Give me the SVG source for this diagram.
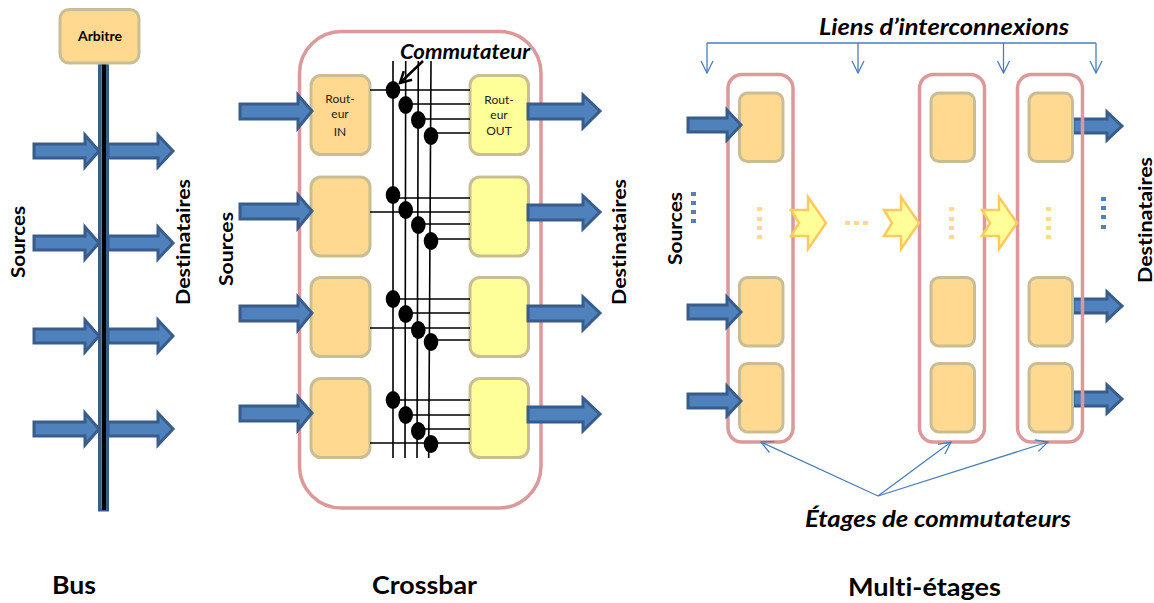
<svg xmlns="http://www.w3.org/2000/svg" width="1154" height="603" viewBox="0 0 1154 603">
<style>
text{font-family:"Lato","Open Sans","Liberation Sans",sans-serif;fill:#000;font-variant-ligatures:none}
.h{font-weight:700;font-size:24px}
.s{font-weight:700;font-size:19px}
.i{font-weight:700;font-style:italic;font-size:23px}
.r{font-size:12px;text-anchor:middle;fill:#222}
.o{fill:#FFD98F;stroke:#C9BD95;stroke-width:3}
.y{fill:#FFFF99;stroke:#C9BD95;stroke-width:3}
.p{fill:none;stroke:#DD9999;stroke-width:3.5}
.a{fill:#4F81BD;stroke:#385D8A;stroke-width:3}
.n{fill:#FFFF99;stroke:#FFC95F;stroke-width:2.5}
.k{stroke:#000;stroke-width:1.6;fill:none}
.b{stroke:#4A7EBB;stroke-width:1.3;fill:none}
.dot{fill:#000}
.od{fill:#FFD98F}
.bd{fill:#4F81BD}
</style>
<defs>
<marker id="open" viewBox="0 0 14 14" refX="13" refY="7" markerWidth="14" markerHeight="14" markerUnits="userSpaceOnUse" orient="auto"><path d="M1 1 L13 7 L1 13" fill="none" stroke="#4A7EBB" stroke-width="1.3"/></marker>
<marker id="blk" viewBox="0 0 14 14" refX="12" refY="7" markerWidth="14" markerHeight="14" markerUnits="userSpaceOnUse" orient="auto"><path d="M1 1 L12 7 L1 13" fill="none" stroke="#000" stroke-width="2.5"/></marker>
<polygon id="n1" class="n" points="0,-13 17,-13 17,-26 35,0 17,26 17,13 0,13 8,0"/>
</defs>

<g id="bus">
<g id="bus-bar"><rect x="99.500" y="64" width="8" height="446" class="a"/><rect x="102" y="64" width="4" height="446" fill="#000"/></g>
<g id="arbitre"><rect x="60" y="9.500" width="79" height="53.500" rx="9" class="o"/><text x="100" y="41" text-anchor="middle" font-size="14" font-weight="700">Arbitre</text></g>
<g id="bus-arrows">
<polygon class="a" points="34,144 85,144 85,135 99,151 85,167 85,158 34,158"/>
<polygon class="a" points="34,236 85,236 85,227 99,243 85,259 85,250 34,250"/>
<polygon class="a" points="34,329 85,329 85,320 99,336 85,352 85,343 34,343"/>
<polygon class="a" points="34,422 85,422 85,413 99,429 85,445 85,436 34,436"/>
<polygon class="a" points="108,144 158,144 158,135 173,151 158,167 158,158 108,158"/>
<polygon class="a" points="108,236 158,236 158,227 173,243 158,259 158,250 108,250"/>
<polygon class="a" points="108,329 158,329 158,320 173,336 158,352 158,343 108,343"/>
<polygon class="a" points="108,422 158,422 158,413 173,429 158,445 158,436 108,436"/>
</g>
<text class="s" transform="translate(25,278) rotate(-90)" textLength="72" lengthAdjust="spacingAndGlyphs">Sources</text>
<text class="s" transform="translate(190,305) rotate(-90)" textLength="126" lengthAdjust="spacingAndGlyphs">Destinataires</text>
<text class="h" x="52" y="594" textLength="44" lengthAdjust="spacingAndGlyphs">Bus</text>
</g>

<g id="crossbar">
<rect id="crossbar-frame" x="299.500" y="31.500" width="241.500" height="476.500" rx="42" class="p"/>
<g id="routers-in">
<g id="in1"><rect x="311" y="75.500" width="59" height="79" rx="10" class="o"/><text class="r" x="340" y="103">Rout-</text><text class="r" x="340" y="118">eur</text><text class="r" x="340" y="136">IN</text></g>
<g id="in2"><rect x="311" y="177" width="59" height="79" rx="10" class="o"/></g>
<g id="in3"><rect x="311" y="277.500" width="59" height="79" rx="10" class="o"/></g>
<g id="in4"><rect x="311" y="378.500" width="59" height="79" rx="10" class="o"/></g>
</g>
<g id="routers-out">
<g id="out1"><rect x="470" y="75.500" width="58.500" height="79" rx="10" class="y"/><text class="r" x="499" y="104">Rout-</text><text class="r" x="499" y="119">eur</text><text class="r" x="499" y="135">OUT</text></g>
<g id="out2"><rect x="470" y="177" width="58.500" height="79" rx="10" class="y"/></g>
<g id="out3"><rect x="470" y="277.500" width="58.500" height="79" rx="10" class="y"/></g>
<g id="out4"><rect x="470" y="378.500" width="58.500" height="79" rx="10" class="y"/></g>
</g>
<g id="crossbar-lines">
<path class="k" d="M393 61V458M405.700 61L405 458M418.300 61L417 458M431 61L428.700 458"/>
<path class="k" d="M370 90H470M406 104H470M418 119H470M431 133H470"/>
<path class="k" d="M393 198H470M370 212H470M418 224H470M431 239H470"/>
<path class="k" d="M393 299H470M406 313H470M370 328H470M431 340H470"/>
<path class="k" d="M393 400H470M406 415H470M418 429H470M370 443H470"/>
</g>
<g id="crossbar-switches">
<ellipse class="dot" cx="393" cy="90" rx="7.300" ry="9"/><ellipse class="dot" cx="405.700" cy="105" rx="7.300" ry="9"/><ellipse class="dot" cx="418.300" cy="120" rx="7.300" ry="9"/><ellipse class="dot" cx="431" cy="136" rx="7.300" ry="9"/>
<ellipse class="dot" cx="393" cy="195" rx="7.300" ry="9"/><ellipse class="dot" cx="405.700" cy="210" rx="7.300" ry="9"/><ellipse class="dot" cx="418.300" cy="225" rx="7.300" ry="9"/><ellipse class="dot" cx="431" cy="241" rx="7.300" ry="9"/>
<ellipse class="dot" cx="393" cy="299" rx="7.300" ry="9"/><ellipse class="dot" cx="405.700" cy="314" rx="7.300" ry="9"/><ellipse class="dot" cx="418.300" cy="330" rx="7.300" ry="9"/><ellipse class="dot" cx="431" cy="342" rx="7.300" ry="9"/>
<ellipse class="dot" cx="393" cy="400" rx="7.300" ry="9"/><ellipse class="dot" cx="405.700" cy="415" rx="7.300" ry="9"/><ellipse class="dot" cx="418.300" cy="431" rx="7.300" ry="9"/><ellipse class="dot" cx="431" cy="444" rx="7.300" ry="9"/>
</g>
<g id="crossbar-arrows">
<polygon class="a" points="240,104 298,104 298,95 312,111 298,128 298,119 240,119"/>
<polygon class="a" points="240,204 298,204 298,195 312,211 298,228 298,219 240,219"/>
<polygon class="a" points="240,306 298,306 298,297 312,313 298,330 298,321 240,321"/>
<polygon class="a" points="240,406 298,406 298,397 312,413 298,430 298,421 240,421"/>
<polygon class="a" points="528,104 583,104 583,95 600,111 583,128 583,119 528,119"/>
<polygon class="a" points="528,205 583,205 583,196 600,212 583,229 583,220 528,220"/>
<polygon class="a" points="528,306 583,306 583,297 600,313 583,330 583,321 528,321"/>
<polygon class="a" points="528,407 583,407 583,398 600,414 583,431 583,422 528,422"/>
</g>
<line x1="423" y1="61" x2="400" y2="83" stroke="#000" stroke-width="2.500" marker-end="url(#blk)"/>
<text class="i" x="400" y="59" style="font-size:20px" textLength="130" lengthAdjust="spacingAndGlyphs">Commutateur</text>
<text class="s" transform="translate(233,286) rotate(-90)" textLength="74" lengthAdjust="spacingAndGlyphs">Sources</text>
<text class="s" transform="translate(626,305) rotate(-90)" textLength="126" lengthAdjust="spacingAndGlyphs">Destinataires</text>
<text class="h" x="372" y="594" textLength="105" lengthAdjust="spacingAndGlyphs">Crossbar</text>
</g>

<g id="multi">
<g id="multi-out-arrows">
<polygon class="a" points="1073,119 1107,119 1107,112 1122,126 1107,140 1107,133 1073,133"/>
<polygon class="a" points="1073,299 1107,299 1107,292 1122,306 1107,320 1107,313 1073,313"/>
<polygon class="a" points="1073,392 1107,392 1107,385 1122,399 1107,413 1107,406 1073,406"/>
</g>
<g id="stage1"><rect x="728" y="74.500" width="65" height="367.500" rx="14" class="p"/>
<rect x="739.500" y="93" width="43.500" height="68.500" rx="8" class="o"/><rect x="739.500" y="277.500" width="43.500" height="68.500" rx="8" class="o"/><rect x="739.500" y="363.500" width="43.500" height="68.500" rx="8" class="o"/></g>
<g id="stage2"><rect x="919.500" y="74.500" width="65" height="367.500" rx="14" class="p"/>
<rect x="931" y="93" width="43.500" height="68.500" rx="8" class="o"/><rect x="931" y="277.500" width="43.500" height="68.500" rx="8" class="o"/><rect x="931" y="363.500" width="43.500" height="68.500" rx="8" class="o"/></g>
<g id="stage3"><rect x="1017.500" y="74.500" width="65" height="367.500" rx="14" class="p"/>
<rect x="1029" y="93" width="43.500" height="68.500" rx="8" class="o"/><rect x="1029" y="277.500" width="43.500" height="68.500" rx="8" class="o"/><rect x="1029" y="363.500" width="43.500" height="68.500" rx="8" class="o"/></g>
<g id="multi-in-arrows">
<polygon class="a" points="688,118 727,118 727,110 741,125 727,140 727,132 688,132"/>
<polygon class="a" points="688,305 727,305 727,297 741,312 727,327 727,319 688,319"/>
<polygon class="a" points="688,394 727,394 727,386 741,401 727,416 727,408 688,408"/>
</g>
<g id="notched-arrows">
<use href="#n1" x="791" y="223"/><use href="#n1" x="884" y="223"/><use href="#n1" x="982" y="223"/>
</g>
<g id="dots">
<rect class="od" x="757" y="207" width="5" height="4"/><rect class="od" x="757" y="217" width="5" height="4"/><rect class="od" x="757" y="226" width="5" height="4"/><rect class="od" x="757" y="235" width="5" height="4"/>
<rect class="od" x="949" y="207" width="5" height="4"/><rect class="od" x="949" y="217" width="5" height="4"/><rect class="od" x="949" y="226" width="5" height="4"/><rect class="od" x="949" y="235" width="5" height="4"/>
<rect class="od" x="1046" y="207" width="5" height="4"/><rect class="od" x="1046" y="217" width="5" height="4"/><rect class="od" x="1046" y="226" width="5" height="4"/><rect class="od" x="1046" y="235" width="5" height="4"/>
<rect class="od" x="845" y="221" width="5" height="4"/><rect class="od" x="854" y="221" width="5" height="4"/><rect class="od" x="863" y="221" width="5" height="4"/>
<rect class="bd" x="691" y="192" width="5" height="4"/><rect class="bd" x="691" y="201" width="5" height="4"/><rect class="bd" x="691" y="210" width="5" height="4"/><rect class="bd" x="691" y="219" width="5" height="4"/>
<rect class="bd" x="1101" y="197" width="5" height="4"/><rect class="bd" x="1101" y="206" width="5" height="4"/><rect class="bd" x="1101" y="215" width="5" height="4"/><rect class="bd" x="1101" y="225" width="5" height="4"/>
</g>
<g id="connectors">
<path class="b" d="M707 43H1096"/>
<path class="b" marker-end="url(#open)" d="M707 43V73"/>
<path class="b" marker-end="url(#open)" d="M858 43V73"/>
<path class="b" marker-end="url(#open)" d="M1003.500 43V73"/>
<path class="b" marker-end="url(#open)" d="M1096 43V73"/>
<path class="b" marker-end="url(#open)" d="M878 496L761 442"/>
<path class="b" marker-end="url(#open)" d="M878 496L951 442"/>
<path class="b" marker-end="url(#open)" d="M878 496L1048 442"/>
</g>
<text class="i" x="819" y="35" textLength="250" lengthAdjust="spacingAndGlyphs">Liens d’interconnexions</text>
<text class="i" x="805" y="527" textLength="266" lengthAdjust="spacingAndGlyphs">Étages de commutateurs</text>
<text class="s" transform="translate(682,265) rotate(-90)" textLength="73" lengthAdjust="spacingAndGlyphs">Sources</text>
<text class="s" transform="translate(1152,283) rotate(-90)" textLength="126" lengthAdjust="spacingAndGlyphs">Destinataires</text>
<text class="h" x="848" y="596" textLength="153" lengthAdjust="spacingAndGlyphs">Multi-étages</text>
</g>
</svg>
